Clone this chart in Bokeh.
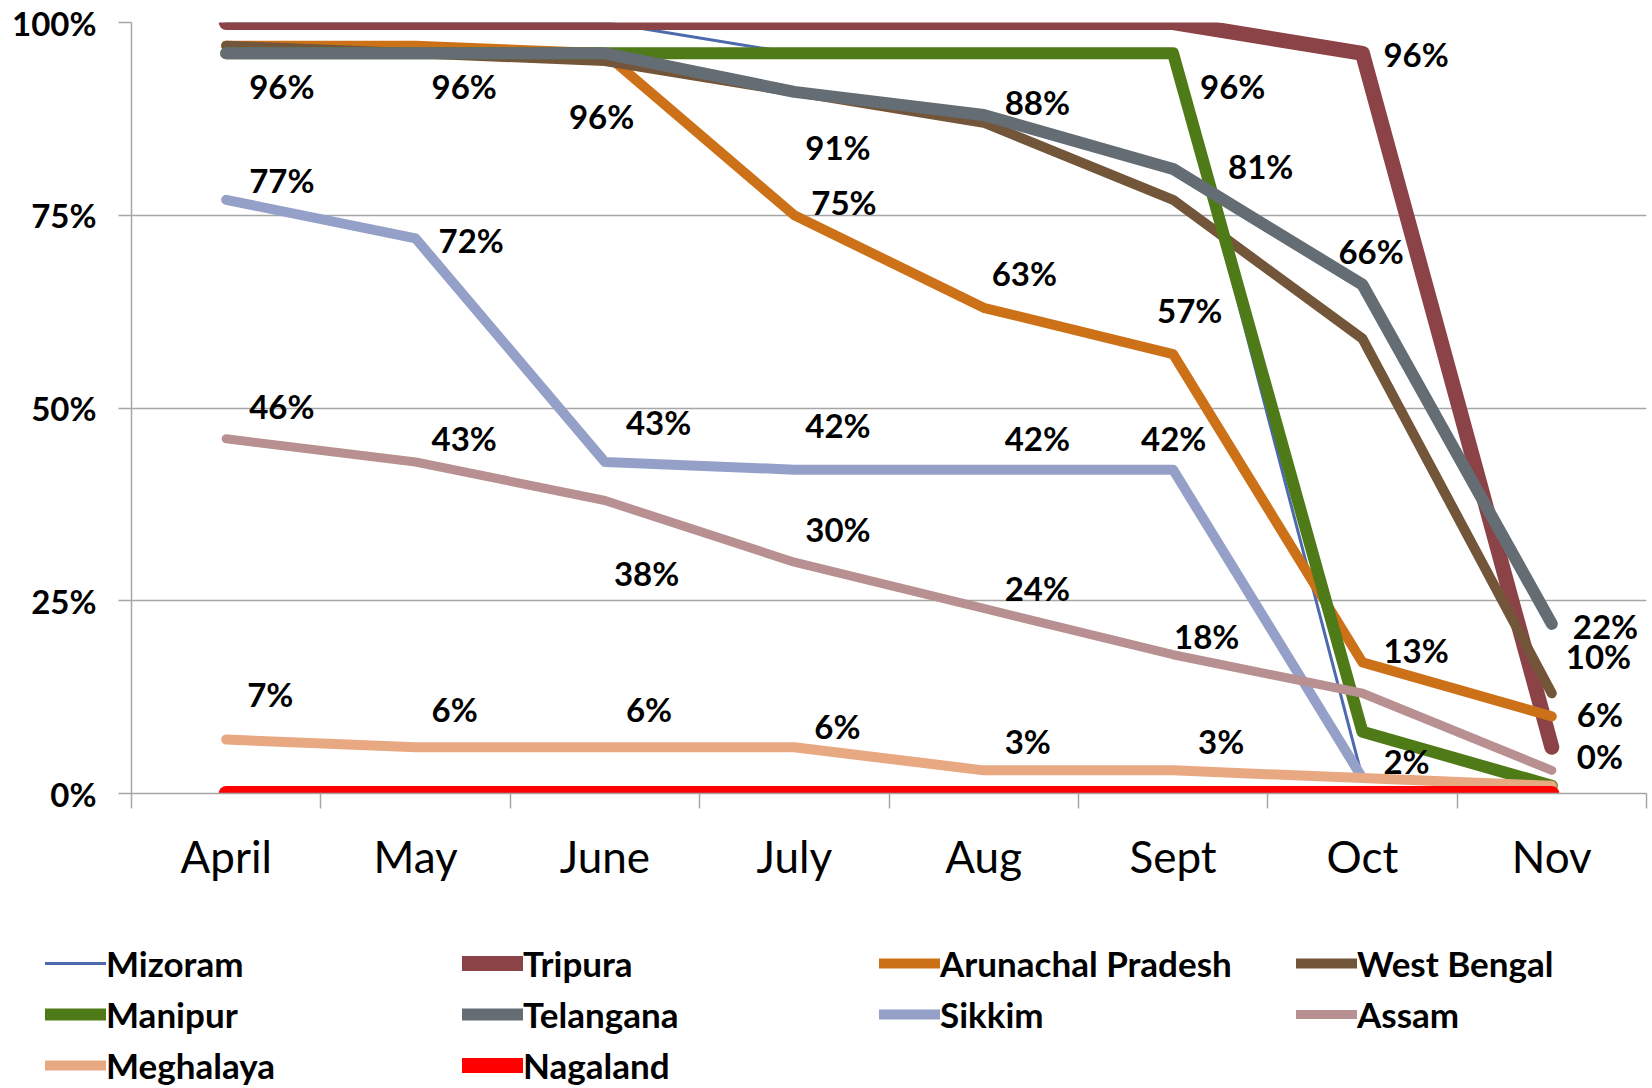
import numpy as np
from bokeh.plotting import figure
from bokeh.models import (Range1d, FixedTicker, ColumnDataSource, Legend, LegendItem)
from bokeh.core.properties import value
from bokeh.embed import file_html
from bokeh.resources import INLINE

months = ["April", "May", "June", "July", "Aug", "Sept", "Oct", "Nov"]
nan = float("nan")

mizoram = [100, 100, 100, 96, 96, 96, 2, nan]
tripura = [100, 100, 100, 100, 100, 100, 96, 6]
arunachal = [97, 97, 96, 75, 63, 57, 17, 10]
west_bengal = [97, 96, 95, 91, 87, 77, 59, 13]
manipur = [96, 96, 96, 96, 96, 96, 8, 1]
telangana = [96, 96, 96, 91, 88, 81, 66, 22]
sikkim = [77, 72, 43, 42, 42, 42, 2, nan]
assam = [46, 43, 38, 30, 24, 18, 13, 3]
meghalaya = [7, 6, 6, 6, 3, 3, 2, 1]
nagaland = [0, 0, 0, 0, 0, 0, 0, 0]

y_ticks = [0, 25, 50, 75, 100]
y_tick_labels = ["0%", "25%", "50%", "75%", "100%"]

series = [
    ("Mizoram", mizoram, "#4E6AAE", 3),
    ("Tripura", tripura, "#8C4347", 15),
    ("Arunachal Pradesh", arunachal, "#CD7118", 10),
    ("West Bengal", west_bengal, "#735639", 10),
    ("Manipur", manipur, "#4F7A18", 12),
    ("Telangana", telangana, "#646D73", 12),
    ("Sikkim", sikkim, "#95A0C8", 10),
    ("Assam", assam, "#B89092", 9),
    ("Meghalaya", meghalaya, "#E8A882", 10),
    ("Nagaland", nagaland, "#FF0000", 15),
]
values_by_name = {s[0]: s[1] for s in series}

# data labels: (series, month index, pixel dx, pixel dy)
label_specs = [
    ("Telangana", 0, 23, 33), ("Sikkim", 0, 23, -20), ("Assam", 0, 23, -33), ("Meghalaya", 0, 21, -46),
    ("Telangana", 1, 16, 33), ("Sikkim", 1, 23, 2), ("Assam", 1, 16, -24), ("Meghalaya", 1, 16, -38),
    ("Telangana", 2, -36, 63), ("Sikkim", 2, 21, -40), ("Assam", 2, 9, 72), ("Meghalaya", 2, 21, -38),
    ("Telangana", 3, 11, 55), ("Arunachal Pradesh", 3, 17, -13), ("Sikkim", 3, 11, -45),
    ("Assam", 3, 11, -33), ("Meghalaya", 3, 20, -21),
    ("Telangana", 4, 21, -13), ("Arunachal Pradesh", 4, 8, -35), ("Sikkim", 4, 21, -32),
    ("Assam", 4, 21, -20), ("Meghalaya", 4, 21, -29),
    ("Manipur", 5, 27, 33), ("Telangana", 5, 55, -3), ("Arunachal Pradesh", 5, -16, -44),
    ("Sikkim", 5, -32, -32), ("Assam", 5, 1, -19), ("Meghalaya", 5, 25, -29),
    ("Tripura", 6, 21, 1), ("Telangana", 6, -24, -34), ("Assam", 6, 21, -43), ("Sikkim", 6, 21, -17),
    ("Telangana", 7, 21, 2), ("Arunachal Pradesh", 7, 14, -60), ("Tripura", 7, 25, -33),
    ("Nagaland", 7, 25, -38),
]

FONT = "Lato"
W = 1650
xs = [i + 0.5 for i in range(len(months))]

p = figure(width=W, height=900, x_range=Range1d(0, 8), y_range=Range1d(0, 100),
           output_backend="svg", toolbar_location=None,
           min_border_left=131, min_border_top=22, min_border_right=4, min_border_bottom=107)
p.outline_line_color = None
p.background_fill_color = "white"
p.border_fill_color = "white"

# axes
p.xaxis.ticker = FixedTicker(ticks=xs, minor_ticks=list(range(len(months) + 1)))
p.xaxis.major_label_overrides = {x: m for x, m in zip(xs, months)}
p.xaxis.major_tick_out = 0
p.xaxis.major_tick_in = 0
p.xaxis.minor_tick_out = 15
p.xaxis.minor_tick_in = 0
p.xaxis.minor_tick_line_color = "#A6A6A6"
p.xaxis.minor_tick_line_width = 1.5
p.xaxis.axis_line_color = "#A6A6A6"
p.xaxis.axis_line_width = 1.5
p.xaxis.major_label_text_font = FONT
p.xaxis.major_label_text_font_size = "44px"
p.xaxis.major_label_text_color = "#000000"
p.xaxis.major_label_standoff = 21

p.yaxis.ticker = FixedTicker(ticks=y_ticks)
p.yaxis.major_label_overrides = {t: l for t, l in zip(y_ticks, y_tick_labels)}
p.yaxis.major_tick_out = 13
p.yaxis.major_tick_in = 0
p.yaxis.minor_tick_line_color = None
p.yaxis.major_tick_line_color = "#A6A6A6"
p.yaxis.major_tick_line_width = 1.5
p.yaxis.axis_line_color = "#A6A6A6"
p.yaxis.axis_line_width = 1.5
p.yaxis.major_label_text_font = FONT
p.yaxis.major_label_text_font_style = "bold"
p.yaxis.major_label_text_font_size = "33px"
p.yaxis.major_label_text_color = "#000000"
p.yaxis.major_label_standoff = 22

p.xgrid.grid_line_color = None
p.ygrid.ticker = FixedTicker(ticks=y_ticks)
p.ygrid.grid_line_color = "#A6A6A6"
p.ygrid.grid_line_width = 1.5

# legend figure (same series drawn out of view, only used for legend samples)
lg = figure(width=W, height=188, x_range=Range1d(100, 101), y_range=Range1d(0, 100),
            output_backend="svg", toolbar_location=None,
            x_axis_location=None, y_axis_location=None,
            min_border_left=0, min_border_top=0, min_border_right=0, min_border_bottom=0)
lg.grid.visible = False
lg.outline_line_color = None

items = []
for name, vals, color, lw in series:
    src = ColumnDataSource(dict(x=xs, y=vals))
    p.line("x", "y", source=src, line_color=color, line_width=lw,
           line_cap="round", line_join="round")
    r2 = lg.line("x", "y", source=src, line_color=color, line_width=lw,
                 line_cap="round", line_join="round")
    items.append(LegendItem(label=name, renderers=[r2]))

lx, ly, lt, ldx, ldy = [], [], [], [], []
for name, i, dx, dy in label_specs:
    v = values_by_name[name][i]
    lx.append(xs[i]); ly.append(v); lt.append(f"{v:.0f}%")
    ldx.append(dx); ldy.append(dy)
lsrc = ColumnDataSource(dict(x=lx, y=ly, text=lt, dx=ldx, dy=ldy))
p.text("x", "y", text="text", source=lsrc, x_offset="dx", y_offset="dy",
       text_font=value(FONT), text_font_style="bold", text_font_size="33px",
       text_color="#000000", text_align="left", text_baseline="middle")

legend = Legend(items=items, orientation="horizontal", ncols=4, location=(45, -1))
legend.label_text_font = FONT
legend.label_text_font_style = "bold"
legend.label_text_font_size = "35px"
legend.label_text_color = "#000000"
legend.glyph_width = 61
legend.glyph_height = 48
legend.label_height = 48
legend.label_width = 353
legend.label_standoff = 0
legend.spacing = 3
legend.padding = 0
legend.margin = 0
legend.border_line_color = None
legend.background_fill_alpha = 0
lg.add_layout(legend)

open("out.html", "w").write(file_html([p, lg], INLINE))
